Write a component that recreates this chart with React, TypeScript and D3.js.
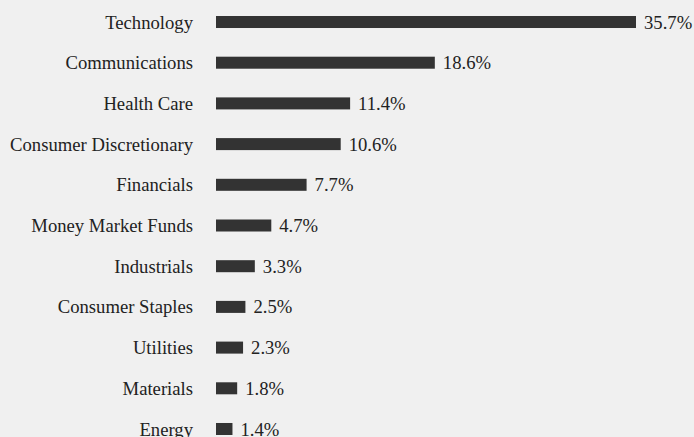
import React from "react";
import * as d3 from "d3";

const categories = [
  "Technology",
  "Communications",
  "Health Care",
  "Consumer Discretionary",
  "Financials",
  "Money Market Funds",
  "Industrials",
  "Consumer Staples",
  "Utilities",
  "Materials",
  "Energy",
];
const values = [35.7, 18.6, 11.4, 10.6, 7.7, 4.7, 3.3, 2.5, 2.3, 1.8, 1.4];
const valueLabels = ["35.7%", "18.6%", "11.4%", "10.6%", "7.7%", "4.7%", "3.3%", "2.5%", "2.3%", "1.8%", "1.4%"];

const W = 694;
const H = 437;

export default function App() {
  const x = d3.scaleLinear().domain([0, 35.7]).range([216, 636]);
  const y = d3.scaleBand<string>().domain(categories).range([16, 435]).paddingInner(0.705).paddingOuter(0);
  const font = "'Liberation Serif', 'Times New Roman', serif";
  const fs = 18.67;
  return (
    <div style={{ position: "fixed", left: 0, top: 0, width: W, height: H, background: "#f0f0f0" }}>
      <svg width={W} height={H} style={{ display: "block" }}>
        <rect x={0} y={0} width={W} height={H} fill="#f0f0f0" />
        {categories.map((c, i) => {
          const yy = y(c)!;
          const cy = yy + y.bandwidth() / 2;
          return (
            <g key={c}>
              <text x={193} y={cy} dy="0.35em" textAnchor="end" fontFamily={font} fontSize={fs} fill="#222">
                {c}
              </text>
              <rect x={x(0)} y={yy} width={x(values[i]) - x(0)} height={y.bandwidth()} fill="#333333" />
              <text x={x(values[i]) + 8} y={cy} dy="0.35em" textAnchor="start" fontFamily={font} fontSize={fs} fill="#222">
                {valueLabels[i]}
              </text>
            </g>
          );
        })}
      </svg>
    </div>
  );
}
